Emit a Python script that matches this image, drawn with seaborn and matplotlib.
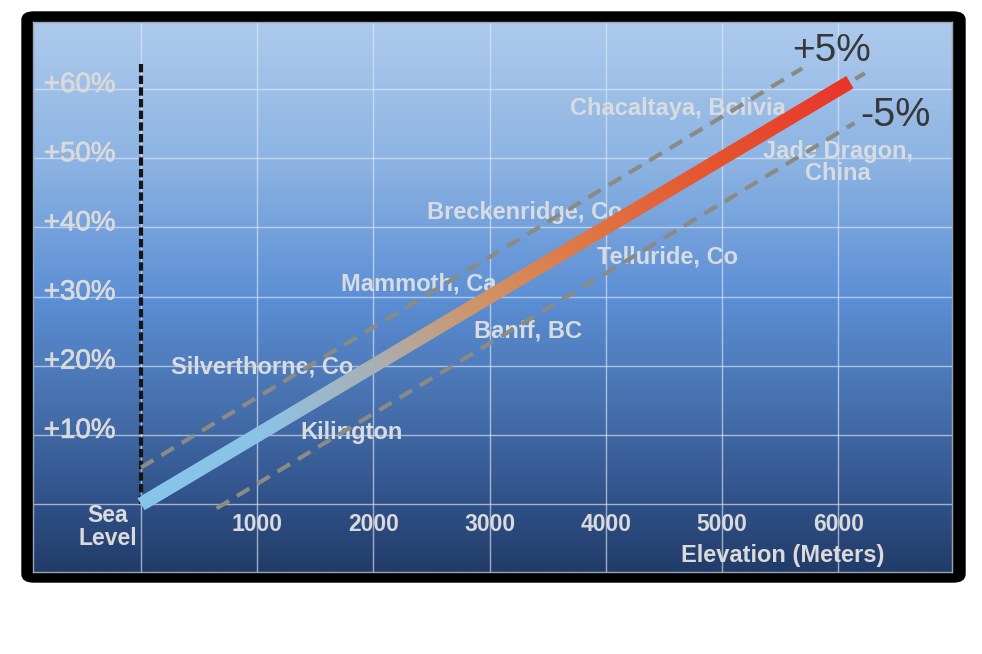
import numpy as np
import pandas as pd
import matplotlib
matplotlib.use("Agg")
import matplotlib.pyplot as plt
import matplotlib.patheffects as pe
import seaborn as sns
from matplotlib.collections import LineCollection
from matplotlib.colors import LinearSegmentedColormap
from matplotlib.patches import FancyBboxPatch

# data
trend_elev = [0, 6100]
trend_boost = [0, 61]
upper_elev = [0, 5690]
upper_boost = [5.3, 63.0]
lower_elev = [650, 6140]
lower_boost = [-0.6, 55.1]
center_elev = [0, 6230]
center_boost = [0, 62.3]

place_names = ["Chacaltaya, Bolivia", "Jade Dragon,\nChina", "Breckenridge, Co",
               "Telluride, Co", "Mammoth, Ca", "Banff, BC", "Silverthorne, Co", "Kilington"]
place_x = [4621, 5998, 3305, 4527, 2392, 3330, 1041, 1816]
place_y = [57.2, 49.4, 42.2, 35.8, 31.8, 25.0, 19.8, 10.3]

x_ticks = [1000, 2000, 3000, 4000, 5000, 6000]
y_ticks = [10, 20, 30, 40, 50, 60]
y_tick_labels = ["+10%", "+20%", "+30%", "+40%", "+50%", "+60%"]

sns.set_theme(style="white")
plt.rcParams["font.family"] = ["Liberation Sans", "DejaVu Sans"]

fig = plt.figure(figsize=(9.82, 6.54), dpi=100)
fig.patch.set_facecolor("white")

# black rounded frame
frame = FancyBboxPatch((22 / 982, 72 / 654), 943 / 982, 570 / 654,
                       boxstyle="round,pad=0,rounding_size=0.012",
                       transform=fig.transFigure, facecolor="black",
                       edgecolor="black", zorder=-1)
fig.patches.append(frame)

ax = fig.add_axes([33 / 982, 82 / 654, 919 / 982, 550 / 654])
xlim = (-930, 6980)
ylim = (-9.8, 69.7)

# background gradient
bg = LinearSegmentedColormap.from_list("bg", [
    (0.0, "#adcaec"), (0.25, "#8db4e3"), (0.5, "#5c8fd5"),
    (0.7, "#4670ad"), (0.88, "#2f5087"), (1.0, "#223c68")])
ax.imshow(np.linspace(0, 1, 256).reshape(-1, 1), cmap=bg, aspect="auto",
          extent=(xlim[0], xlim[1], ylim[0], ylim[1]), zorder=0)

ax.set_xlim(xlim)
ax.set_ylim(ylim)
ax.set_xticks([0] + x_ticks)
ax.set_yticks([0] + y_ticks)
ax.set_axisbelow(True)
ax.grid(True, color="#e2e8f2", alpha=0.65, lw=1.0)
ax.tick_params(labelbottom=False, labelleft=False, length=0)
for s in ax.spines.values():
    s.set_color("#9aa5b5")
    s.set_linewidth(1)

# sea level marker
ax.plot([0, 0], [0, 63.9], color="#151515", lw=3, ls=(0, (2.0, 0.8)), zorder=3)

# place labels
for name, px, py in zip(place_names, place_x, place_y):
    ax.text(px, py, name, ha="center", va="center", multialignment="center",
            color="#d8dce0", fontsize=17, fontweight="bold", zorder=2,
            linespacing=0.95)

# tick labels drawn inside the panel
thick = [pe.withStroke(linewidth=0.5, foreground="#dadada")]
for v, lab in zip(y_ticks, y_tick_labels):
    ax.text(-528, v + 0.6, lab, ha="center", va="center", color="#dadada",
            fontsize=20, zorder=2, path_effects=thick)
for v in x_ticks:
    ax.text(v, -2.9, str(v), ha="center", va="center", color="#dadada",
            fontsize=16.5, fontweight="bold", zorder=2)
ax.text(-284, -3.3, "Sea\nLevel", ha="center", va="center", color="#dadada",
        fontsize=16.5, fontweight="bold", linespacing=1.0, zorder=2)
ax.text(5525, -7.4, "Elevation (Meters)", ha="center", va="center",
        color="#dadada", fontsize=17, fontweight="bold", zorder=2)

# dashed band lines
band = pd.DataFrame({"elev": upper_elev, "boost": upper_boost})
sns.lineplot(data=band, x="elev", y="boost", ax=ax, color="#8a8a86", lw=3,
             linestyle=(0, (3.5, 2.2)), zorder=3)
band = pd.DataFrame({"elev": lower_elev, "boost": lower_boost})
sns.lineplot(data=band, x="elev", y="boost", ax=ax, color="#8a8a86", lw=3,
             linestyle=(0, (3.5, 2.2)), zorder=3)
band = pd.DataFrame({"elev": center_elev, "boost": center_boost})
sns.lineplot(data=band, x="elev", y="boost", ax=ax, color="#8a8a86", lw=3,
             linestyle=(0, (3.5, 2.2)), zorder=3)

# gradient trend line
trend_cmap = LinearSegmentedColormap.from_list("trend", [
    (0.0, "#86c5eb"), (0.17, "#8cc2e6"), (0.33, "#a9afb2"), (0.47, "#cf9468"),
    (0.62, "#df7744"), (0.8, "#e5552f"), (1.0, "#e8352a")])
t = np.linspace(0, 1, 200)
xs = trend_elev[0] + t * (trend_elev[1] - trend_elev[0])
ys = trend_boost[0] + t * (trend_boost[1] - trend_boost[0])
pts = np.column_stack([xs, ys])
segs = [pts[i:i + 3:2] for i in range(len(pts) - 2)] + [pts[-2:]]
lc = LineCollection(segs, cmap=trend_cmap, linewidths=10, capstyle="butt", zorder=4)
lc.set_array(np.append(t[:-2], 1.0))
ax.add_collection(lc)

ax.text(5947, 65.5, "+5%", ha="center", va="center", color="#383838", fontsize=28, zorder=5)
ax.text(6489, 56.2, "-5%", ha="center", va="center", color="#383838", fontsize=28.5, zorder=5)

ax.set_xlabel("")
ax.set_ylabel("")
fig.savefig("out.png", dpi=100, facecolor="white")
